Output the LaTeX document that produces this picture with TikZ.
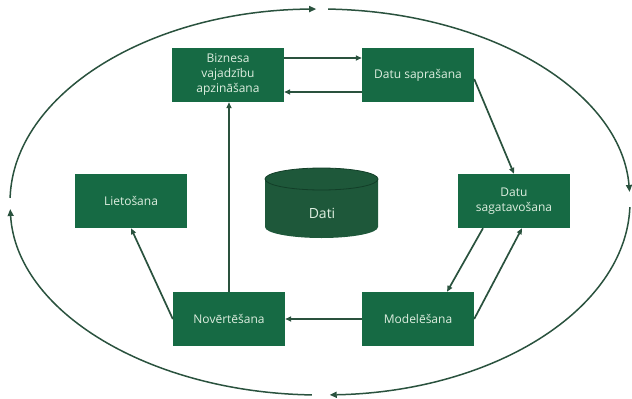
\documentclass[tikz,border=0pt]{standalone}
\usepackage{fontspec}
\setmainfont{Open Sans}
\usetikzlibrary{arrows.meta,calc}
\definecolor{boxgreen}{RGB}{22,106,68}
\definecolor{cylgreen}{RGB}{30,88,58}
\definecolor{cyledge}{RGB}{18,62,40}
\definecolor{linegreen}{RGB}{42,82,62}
\definecolor{txt}{RGB}{222,238,224}
\begin{document}
\begin{tikzpicture}[x=1pt,y=-1pt,
  stagebox/.style={fill=boxgreen, minimum width=112pt, minimum height=54pt, inner sep=2pt,
    text=txt, font=\fontsize{12}{15}\selectfont, align=center},
  conn/.style={draw=linegreen, line width=1.7pt, -{Triangle[length=6pt,width=5pt]}},
  ring/.style={draw=linegreen, line width=1.5pt, -{Triangle[length=7pt,width=6pt]}}]
\useasboundingbox (0,0) rectangle (632,399);
% stages
\node[stagebox] (biz) at (228,75) {Biznesa\\vajadzību\\apzināšana};
\node[stagebox] (sap) at (418,75) {Datu saprašana};
\node[stagebox] (sag) at (514,201) {Datu\\sagatavošana};
\node[stagebox] (liet) at (131,201) {Lietošana};
\node[stagebox] (nov) at (229,319) {Novērtēšana};
\node[stagebox] (mod) at (418,319) {Modelēšana};
% cylinder
\fill[cylgreen] (265,179) -- (265,227) arc[start angle=180,end angle=360,x radius=56.5pt,y radius=11pt]
  -- (378,179) arc[start angle=0,end angle=180,x radius=56.5pt,y radius=11pt] -- cycle;
\draw[cyledge, line width=0.8pt] (321.5,179) ellipse[x radius=56.5pt, y radius=11pt];
\node[text=txt, font=\fontsize{14}{16}\selectfont] (dati) at (322,213) {Dati};
% connectors
\draw[conn] ([yshift=17pt]biz.east) -- ([yshift=17pt]sap.west);
\draw[conn] ([yshift=-17pt]sap.west) -- ([yshift=-17pt]biz.east);
\draw[conn] ([yshift=-4pt]sap.east) -- (sag.north);
\draw[conn] ([xshift=-31pt]sag.south) -- ([xshift=29pt]mod.north);
\draw[conn] (mod.east) -- ([xshift=8pt]sag.south);
\draw[conn] (mod.west) -- (nov.east);
\draw[conn] (nov.north) -- (nov.north |- biz.south);
\draw[conn] (nov.west) -- (liet.south);
% outer cycle
\coordinate (c) at (320,202);
\draw[ring] ([shift={(c)}]178.8:310pt and 193pt) arc[start angle=178.8, end angle=90.7, x radius=310pt, y radius=193pt];
\draw[ring] ([shift={(c)}]88.5:310pt and 193pt) arc[start angle=88.5, end angle=3, x radius=310pt, y radius=193pt];
\draw[ring] ([shift={(c)}]-1.5:310pt and 193pt) arc[start angle=-1.5, end angle=-88.2, x radius=310pt, y radius=193pt];
\draw[ring] ([shift={(c)}]-91.5:310pt and 193pt) arc[start angle=-91.5, end angle=-177.9, x radius=310pt, y radius=193pt];
\end{tikzpicture}
\end{document}
